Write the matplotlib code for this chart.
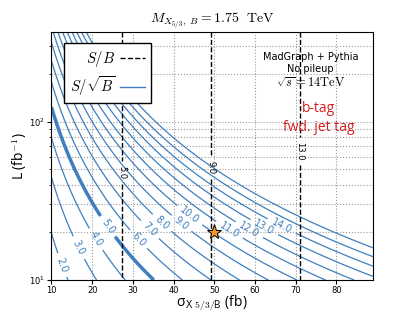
import numpy as np
import matplotlib
matplotlib.use("Agg")
import matplotlib.pyplot as plt
from matplotlib.lines import Line2D

plt.rcParams['mathtext.fontset'] = 'cm'

# values
sigma_range = [10, 89]          # fb
lumi_range = [10, 370]          # fb^-1
sb_per_fb = 0.183               # S/B per fb of signal cross section
ssb_coeff = 0.045               # S/sqrt(B) per fb per sqrt(fb^-1)
ssb_levels = list(range(1, 17))
sb_levels = [5, 9, 13]
star_point = (50, 20)

ssb_label_pos = [(12.6, 12.4), (16.5, 15.9), (20.7, 17.9), (23.6, 21.6), (31.2, 17.9),
                 (34.1, 20.7), (37.1, 22.9), (42.2, 23.2), (44.4, 26.5), (53.7, 20.7),
                 (58.7, 21.0), (62.3, 21.6), (66.7, 22.3)]
sb_label_pos = [(27.35, 48), (49.3, 51), (70.9, 65)]

blue = '#3f7fbf'

sig = np.linspace(sigma_range[0], sigma_range[1], 400)
lum = np.logspace(np.log10(lumi_range[0]), np.log10(lumi_range[1]), 400)
S, L = np.meshgrid(sig, lum)
ssb = ssb_coeff * S * np.sqrt(L)
sb = sb_per_fb * S

fig = plt.figure(figsize=(4.15, 3.12), dpi=100)
ax = fig.add_axes([0.124, 0.1026, 0.775, 0.796])
ax.set_yscale('log')

widths = [2.5 if lv == 5 else 0.9 for lv in ssb_levels]
cs = ax.contour(S, L, ssb, levels=ssb_levels, colors=blue, linewidths=widths)
ax.clabel(cs, fmt='%.1f', fontsize=7, inline=True, manual=ssb_label_pos)

cb = ax.contour(S, L, sb, levels=sb_levels, colors='k', linestyles='dashed', linewidths=1.0)
ax.clabel(cb, fmt='%.1f', fontsize=6, inline=True, manual=sb_label_pos)

ax.plot(star_point[0], star_point[1], marker='*', markersize=11, color='#f0962e',
        markeredgecolor='k', markeredgewidth=0.7, linestyle='none')

ax.set_xlim(sigma_range)
ax.set_ylim(lumi_range)
ax.grid(True, which='major', linestyle=':', color='#999999', linewidth=0.8)
ax.grid(True, which='minor', axis='y', linestyle=':', color='#999999', linewidth=0.8)
ax.tick_params(labelsize=6, length=3, pad=1.5)
ax.tick_params(which='minor', length=1.5)
ax.set_xticks([10, 20, 30, 40, 50, 60, 70, 80])

ax.set_xlabel('σ' + r'$_{\mathsf{X\ 5/3/B}}$' + ' (fb)', fontsize=10, family='Open Sans', labelpad=-1)
ax.set_ylabel('L (fb' + r'$^{\mathsf{-1}}$' + ')', fontsize=10, family='Open Sans')
ax.yaxis.set_label_coords(-0.07, 0.5)
ax.set_title(r'$M_{X_{5/3},\ B} = 1.75\ \ \mathrm{TeV}$', fontsize=10, pad=6)

ax.text(0.805, 0.898, 'MadGraph + Pythia', transform=ax.transAxes, ha='center', va='center', fontsize=7)
ax.text(0.805, 0.85, 'No pileup', transform=ax.transAxes, ha='center', va='center', fontsize=7)
ax.text(0.805, 0.793, r'$\sqrt{s} = 14\mathrm{TeV}$', transform=ax.transAxes, ha='center', va='center', fontsize=9)
ax.text(0.83, 0.689, 'b-tag', transform=ax.transAxes, ha='center', va='center', fontsize=10,
        color='#d62020', family='Open Sans')
ax.text(0.83, 0.616, 'fwd. jet tag', transform=ax.transAxes, ha='center', va='center', fontsize=10,
        color='#d62020', family='Open Sans')

handles = [Line2D([], [], color='k', linestyle='dashed', linewidth=1.0),
           Line2D([], [], color=blue, linewidth=1.0)]
leg = ax.legend(handles, [r'$S/B$', r'$S/\sqrt{B}$'], loc='upper left', bbox_to_anchor=(0.04, 0.955),
                markerfirst=False, fontsize=10.5, fancybox=False, framealpha=1, handlelength=1.7,
                borderpad=0.4, labelspacing=0.35, handletextpad=0.3, borderaxespad=0)
leg.get_frame().set_edgecolor('k')

fig.savefig('out.png', dpi=100)
